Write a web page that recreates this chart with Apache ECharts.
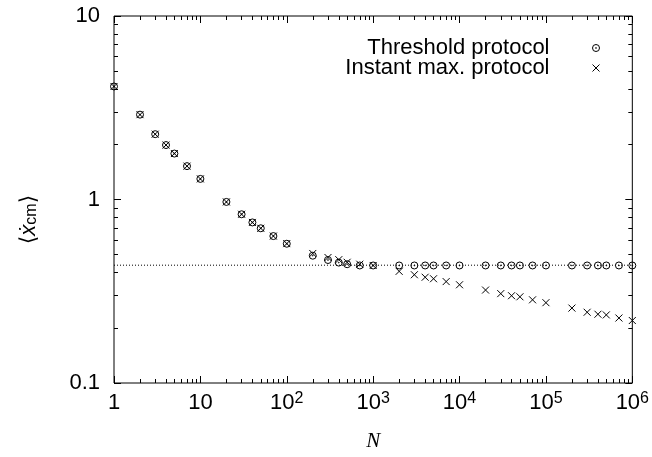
<!DOCTYPE html>
<html>
<head>
<meta charset="utf-8">
<script src="https://cdn.jsdelivr.net/npm/echarts@6/dist/echarts.min.js"></script>
<style>html,body{margin:0;padding:0;background:#fff}#c{width:652px;height:457px}</style>
</head>
<body>
<div id="c"></div>
<script>
// ---- data ----
const N = [1,2,3,4,5,7,10,20,30,40,50,70,100,200,300,400,500,700,1000,2000,3000,4000,5000,7000,1e4,2e4,3e4,4e4,5e4,7e4,1e5,2e5,3e5,4e5,5e5,7e5,1e6];
const thresholdVals = [4.13,2.90,2.27,1.98,1.78,1.52,1.295,0.970,0.831,0.750,0.697,0.632,0.574,0.494,0.468,0.453,0.444,0.437,0.437,0.437,0.437,0.437,0.437,0.437,0.437,0.437,0.437,0.437,0.437,0.437,0.437,0.437,0.437,0.437,0.437,0.437,0.437];
const instantVals = [4.13,2.90,2.27,1.98,1.78,1.52,1.295,0.970,0.831,0.750,0.697,0.632,0.575,0.508,0.483,0.470,0.455,0.444,0.437,0.406,0.389,0.377,0.370,0.357,0.343,0.321,0.307,0.299,0.295,0.284,0.274,0.256,0.243,0.237,0.235,0.226,0.219];
const refLevel = 0.4385;
const seriesNames = ['Threshold protocol', 'Instant max. protocol'];
const xTickValues = [1,10,100,1000,1e4,1e5,1e6];
const xTickLabels = [['1',''],['10',''],['10','2'],['10','3'],['10','4'],['10','5'],['10','6']];
const yTickValues = [0.1,1,10];
const yTickLabels = ['0.1','1','10'];
const xMinorTicks = [2,3,4,5,6,7,8,9,20,30,40,50,60,70,80,90,200,300,400,500,600,700,800,900,2000,3000,4000,5000,6000,7000,8000,9000,2e4,3e4,4e4,5e4,6e4,7e4,8e4,9e4,2e5,3e5,4e5,5e5,6e5,7e5,8e5,9e5];
const yMinorTicks = [0.2,0.3,0.4,0.5,0.6,0.7,0.8,0.9,2,3,4,5,6,7,8,9];

// ---- chart ----
const FONT = 'Liberation Sans, Arial, Helvetica, sans-serif';
const FS = 22;
const circlePath = 'path://M0,5A5,5,0,1,1,10,5A5,5,0,1,1,0,5ZM4.4,5A0.6,0.6,0,1,1,5.6,5A0.6,0.6,0,1,1,4.4,5Z';
const crossPath = 'path://M0,0L10,10M10,0L0,10';

function idxOf(arr, v) {
  let best = -1, bd = Infinity;
  arr.forEach((t, i) => { const d = Math.abs(Math.log10(t) - Math.log10(v)); if (d < bd) { bd = d; best = i; } });
  return bd < 1e-6 ? best : -1;
}

function tickAxis(dim, position, values, len) {
  const isX = dim === 'x';
  return {
    type: 'log', logBase: 10, position: position,
    min: isX ? 1 : 0.1, max: isX ? 1e6 : 10,
    axisLine: { show: false },
    splitLine: { show: false },
    axisTick: { show: true, inside: true, length: len, customValues: values, lineStyle: { color: '#000', width: 1 } },
    axisLabel: { show: false }
  };
}

const xAxes = [
  Object.assign(tickAxis('x', 'bottom', xTickValues, 7), {
    axisLabel: {
      show: true, margin: 8, color: '#000', fontFamily: FONT, fontSize: FS,
      customValues: xTickValues,
      formatter: function (v) {
        const i = idxOf(xTickValues, v);
        if (i < 0) return '';
        const l = xTickLabels[i];
        return l[1] ? '{b|' + l[0] + '}{s|' + l[1] + '}' : '{b|' + l[0] + '}';
      },
      rich: {
        b: { fontSize: FS, fontFamily: FONT, color: '#000', lineHeight: 24 },
        s: { fontSize: 16, fontFamily: FONT, color: '#000', lineHeight: 10, verticalAlign: 'top' }
      }
    },
    name: 'N', nameLocation: 'middle', nameGap: 48,
    nameTextStyle: { fontFamily: 'Liberation Serif, Times New Roman, serif', fontStyle: 'italic', fontSize: 21, color: '#000' }
  }),
  tickAxis('x', 'bottom', xMinorTicks, 4),
  tickAxis('x', 'top', xTickValues, 7),
  tickAxis('x', 'top', xMinorTicks, 4)
];
const yAxes = [
  Object.assign(tickAxis('y', 'left', yTickValues, 7), {
    axisLabel: {
      show: true, margin: 14, color: '#000', fontFamily: FONT, fontSize: FS,
      customValues: yTickValues,
      formatter: function (v) { const i = idxOf(yTickValues, v); return i < 0 ? '' : yTickLabels[i]; }
    },
    name: '{a|\u27E8}{x|\u1E8B}{c|cm}{a|\u27E9}', nameLocation: 'middle', nameGap: 74,
    nameTextStyle: {
      color: '#000', padding: [0, 40, 0, 0],
      rich: {
        a: { fontFamily: 'DejaVu Sans, sans-serif', fontSize: 22, color: '#000' },
        x: { fontFamily: FONT, fontStyle: 'italic', fontSize: 22, color: '#000' },
        c: { fontFamily: FONT, fontSize: 16, color: '#000', verticalAlign: 'bottom', lineHeight: 20 }
      }
    }
  }),
  tickAxis('y', 'left', yMinorTicks, 4),
  tickAxis('y', 'right', yTickValues, 7),
  tickAxis('y', 'right', yMinorTicks, 4)
];

const legendBase = {
  right: 45, align: 'right', itemWidth: 7, itemHeight: 7, itemGap: 0, selectedMode: false,
  textStyle: { fontFamily: FONT, fontSize: FS, lineHeight: 22, color: '#000', padding: [0, 38, 0, 0] },
  itemStyle: { color: 'none', borderColor: '#000', borderWidth: 1 }
};

const chart = echarts.init(document.getElementById('c'), null, { renderer: 'canvas' });
chart.setOption({
  animation: false,
  backgroundColor: '#fff',
  grid: { left: 114, right: 18, top: 16, bottom: 64, show: true, borderColor: '#000', borderWidth: 1, backgroundColor: 'transparent' },
  xAxis: xAxes,
  yAxis: yAxes,
  legend: [
    Object.assign({}, legendBase, { top: 32, data: [{ name: seriesNames[0], icon: circlePath }] }),
    Object.assign({}, legendBase, { top: 52, data: [{ name: seriesNames[1], icon: crossPath }] })
  ],
  series: [
    {
      name: 'ref', type: 'line', silent: true, symbol: 'none',
      data: [[xTickValues[0], refLevel], [xTickValues[xTickValues.length - 1], refLevel]],
      lineStyle: { color: '#000', width: 1, type: [1, 2] }, z: 1
    },
    {
      name: seriesNames[0], type: 'scatter',
      data: N.map((n, i) => [n, thresholdVals[i]]),
      symbol: circlePath, symbolSize: 7,
      itemStyle: { color: 'none', borderColor: '#000', borderWidth: 1, opacity: 1 }, z: 3
    },
    {
      name: seriesNames[1], type: 'scatter',
      data: N.map((n, i) => [n, instantVals[i]]),
      symbol: crossPath, symbolSize: 7,
      itemStyle: { color: 'none', borderColor: '#000', borderWidth: 1, opacity: 1 }, z: 3
    }
  ]
});
</script>
</body>
</html>
